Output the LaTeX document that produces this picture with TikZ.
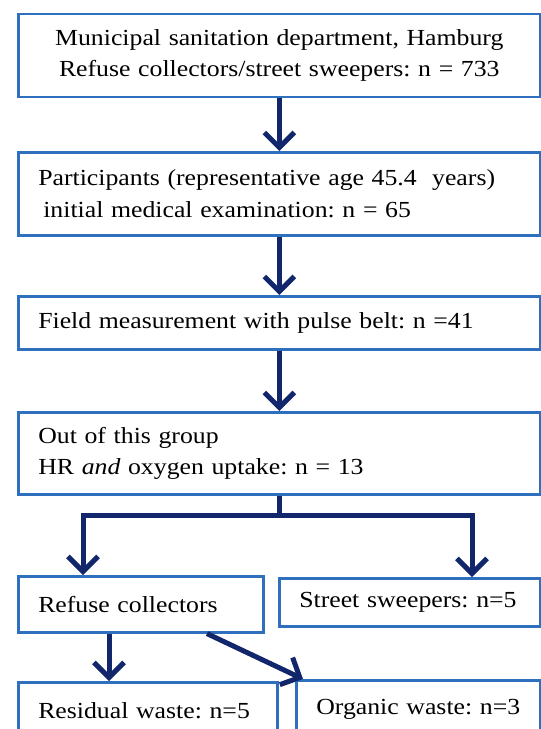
\documentclass[tikz,border=0pt]{standalone}
\usepackage{fontspec}
\setmainfont{Liberation Serif}[FakeStretch=1.12]
\usetikzlibrary{arrows.meta}
\definecolor{boxblue}{RGB}{46,112,190}
\definecolor{navy}{RGB}{18,38,108}
\frenchspacing
\begin{document}
\begin{tikzpicture}[x=1pt,y=-1pt,
  box/.style={draw=boxblue, line width=2.6pt, anchor=north west, inner xsep=20pt, inner ysep=0pt,
    align=left, font=\fontsize{23}{31.5}\selectfont, text=black},
  arr/.style={draw=navy, line width=5pt, line join=miter, -{Straight Barb[length=15pt,width=30pt]}},
  conn/.style={draw=navy, line width=5pt}]
\useasboundingbox (0,0) rectangle (541,729);
\clip (0,0) rectangle (541,729);

\node[box, text width=482pt, minimum height=83pt, align=center] (b1) at (17,12.7)
  {Municipal sanitation department, Hamburg\\Refuse collectors/street sweepers: n = 733};
\node[box, text width=482pt, minimum height=83pt] (b2) at (17,151)
  {Participants (representative age 45.4\ \ years)\\\hspace*{5pt}initial medical examination: n = 65};
\node[box, text width=482pt, minimum height=53pt] (b3) at (17,295)
  {Field measurement with pulse belt: n =41};
\node[box, text width=482pt, minimum height=82pt] (b4) at (17,411)
  {Out of this group\\HR \textit{and} oxygen uptake: n = 13};
\node[box, text width=205pt, minimum height=56pt] (b5) at (17,575) {\mbox{Refuse collectors}};
\node[box, text width=221pt, minimum height=48pt] (b6) at (278,577) {\mbox{Street sweepers: n=5}};
\node[box, text width=219pt, minimum height=56pt] (b7) at (17,681) {\mbox{Residual waste: n=5}};
\node[box, text width=204pt, minimum height=58pt] (b8) at (295,679) {\mbox{Organic waste: n=3}};

\draw[arr] (b1.south) -- (b2.north);
\draw[arr] (b2.south) -- (b3.north);
\draw[arr] (b3.south) -- (b4.north);

\coordinate (yb) at (0,515);
\coordinate (split) at (b4.south |- yb);
\coordinate (lt) at ([xshift=66pt]b5.north west);
\coordinate (rt) at ([xshift=194pt]b6.north west);
\draw[conn] (b4.south) -- (split);
\draw[arr] (split) -| (lt);
\draw[arr] (split) -| (rt);

\coordinate (rs) at ([xshift=92pt]b5.south west);
\draw[arr] (rs) -- (rs |- b7.north);
\coordinate (ds) at ([xshift=190pt]b5.south west);
\coordinate (de) at ([xshift=8pt]b8.north west);
\draw[arr] (ds) -- (de);
\end{tikzpicture}
\end{document}
